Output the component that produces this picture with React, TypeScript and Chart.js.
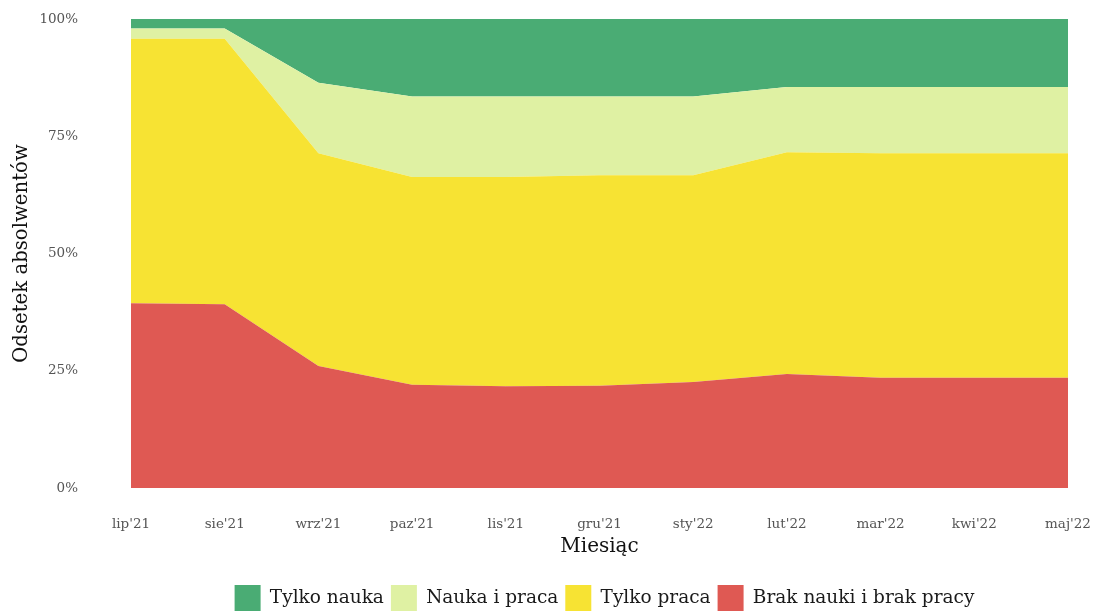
import React, { useEffect, useRef } from "react";
import { Chart, registerables } from "chart.js";

Chart.register(...registerables);

const months = ["lip'21", "sie'21", "wrz'21", "paz'21", "lis'21", "gru'21", "sty'22", "lut'22", "mar'22", "kwi'22", "maj'22"];
const brakNaukiIPracy = [39.4, 39.2, 26.0, 22.0, 21.7, 21.8, 22.6, 24.3, 23.5, 23.5, 23.5];
const tylkoPraca = [56.4, 56.6, 45.4, 44.3, 44.6, 44.9, 44.1, 47.3, 47.9, 47.9, 47.9];
const naukaIPraca = [2.2, 2.2, 15.0, 17.2, 17.2, 16.8, 16.8, 13.9, 14.1, 14.1, 14.1];
const tylkoNauka = [2.0, 2.0, 13.6, 16.5, 16.5, 16.5, 16.5, 14.5, 14.5, 14.5, 14.5];
const yTicks = [0, 25, 50, 75, 100];

const FONT = "'DejaVu Serif', serif";

const centerLegendOnArea = {
  id: "centerLegendOnArea",
  beforeDraw(chart: any) {
    const lg = chart.legend;
    const ca = chart.chartArea;
    if (!lg || !ca) return;
    const shift = (ca.left + ca.right) / 2 + 5 - (lg.left + lg.right) / 2;
    lg.left += shift;
    lg.right += shift;
  },
};

export default function App() {
  const ref = useRef<HTMLCanvasElement | null>(null);

  useEffect(() => {
    document.body.style.margin = "0";
    document.body.style.overflow = "hidden";
    const canvas = ref.current;
    if (!canvas) return;
    const mk = (label: string, data: number[], color: string, fill: any) => ({
      label,
      data,
      backgroundColor: color,
      borderColor: color,
      borderWidth: 0,
      pointRadius: 0,
      fill,
      tension: 0,
    });
    const hiddenGrid = (len: number) => ({
      display: true,
      drawOnChartArea: false,
      drawTicks: true,
      tickLength: len,
      color: "rgba(0,0,0,0)",
    });
    const chart = new Chart(canvas, {
      type: "line",
      data: {
        labels: months,
        datasets: [
          mk("Brak nauki i brak pracy", brakNaukiIPracy, "#df5953", "origin"),
          mk("Tylko praca", tylkoPraca, "#f7e333", "-1"),
          mk("Nauka i praca", naukaIPraca, "#dff1a3", "-1"),
          mk("Tylko nauka", tylkoNauka, "#4aac74", "-1"),
        ],
      },
      plugins: [centerLegendOnArea],
      options: {
        responsive: false,
        animation: false,
        layout: { padding: { top: 19, right: 25, left: 0, bottom: -10 } },
        plugins: {
          tooltip: { enabled: false },
          legend: {
            position: "bottom",
            reverse: true,
            labels: {
              boxWidth: 26,
              boxHeight: 26,
              padding: 7,
              color: "#1a1a1a",
              font: { family: FONT, size: 18.5 },
            },
          },
        },
        scales: {
          x: {
            offset: false,
            grid: hiddenGrid(28),
            border: { display: false },
            ticks: {
              color: "#555555",
              font: { family: FONT, size: 13.5 },
              padding: 0,
              maxRotation: 0,
              autoSkip: false,
            },
            title: {
              display: true,
              text: "Miesiąc",
              color: "#111111",
              font: { family: FONT, size: 20 },
              padding: { top: 0, bottom: 19 },
            },
            afterFit: (s: any) => {
              s.height = 90;
            },
          },
          y: {
            stacked: true,
            min: 0,
            max: 100,
            grid: hiddenGrid(53),
            border: { display: false },
            afterBuildTicks: (s: any) => {
              s.ticks = yTicks.map((v) => ({ value: v }));
            },
            ticks: {
              color: "#555555",
              font: { family: FONT, size: 13.5 },
              padding: 0,
              callback: (v: any) => v + "%",
            },
            title: {
              display: true,
              text: "Odsetek absolwentów",
              color: "#111111",
              font: { family: FONT, size: 19.7 },
              padding: { top: 10, bottom: 0 },
            },
            afterFit: (s: any) => {
              s.width = 131;
            },
          },
        },
      },
    });
    return () => chart.destroy();
  }, []);

  return <canvas ref={ref} width={1093} height={611} style={{ display: "block" }} />;
}
